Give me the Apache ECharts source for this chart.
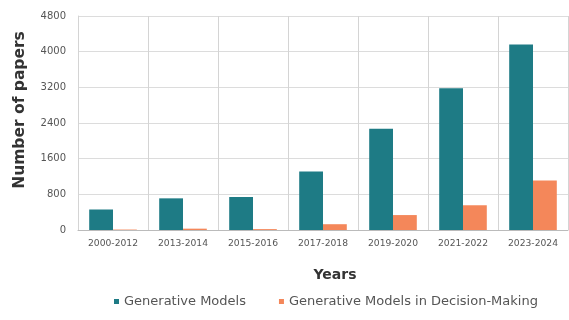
<!DOCTYPE html>
<html><head><meta charset="utf-8">
<script src="https://cdn.jsdelivr.net/npm/echarts@6/dist/echarts.min.js"></script>
<style>html,body{margin:0;padding:0;background:#fff}#c{width:569px;height:320px}</style>
</head><body><div id="c"></div>
<script>
const categories = ['2000-2012','2013-2014','2015-2016','2017-2018','2019-2020','2021-2022','2023-2024'];
const generativeModels = [460, 710, 740, 1310, 2270, 3180, 4160];
const decisionMaking = [10, 30, 20, 130, 335, 555, 1110];
const yTicks = [0, 800, 1600, 2400, 3200, 4000, 4800];

const F = 'DejaVu Sans';
const chart = echarts.init(document.getElementById('c'));
chart.setOption({
  animation: false,
  grid: {left: 78, right: 1, top: 16, bottom: 90},
  legend: {
    top: 290, left: 109, itemWidth: 5, itemHeight: 5, itemGap: 33,
    icon: 'rect',
    textStyle: {color: '#555', fontSize: 13, fontFamily: F},
    data: ['Generative Models', 'Generative Models in Decision-Making']
  },
  xAxis: {
    type: 'category', data: categories,
    name: 'Years', nameLocation: 'middle', nameGap: 38,
    nameTextStyle: {fontWeight: 'bold', fontSize: 14, color: '#333', fontFamily: F, padding: [0, 0, 0, 24]},
    axisLine: {lineStyle: {color: '#bbb'}},
    axisTick: {show: false},
    axisLabel: {color: '#555', fontSize: 9.2, margin: 9, fontFamily: F},
    splitLine: {show: true, lineStyle: {color: '#d4d4d4'}}
  },
  yAxis: {
    type: 'value', min: yTicks[0], max: yTicks[yTicks.length-1], interval: 800,
    name: 'Number of papers', nameLocation: 'middle', nameGap: 50,
    nameTextStyle: {fontWeight: 'bold', fontSize: 15.5, color: '#333', fontFamily: F, padding: [0, 0, 0, 26]},
    axisLine: {show: true, lineStyle: {color: '#d4d4d4'}},
    axisLabel: {color: '#555', fontSize: 10, margin: 12, fontFamily: F, formatter: v => String(v)},
    splitLine: {lineStyle: {color: '#dcdcdc'}}
  },
  series: [
    {name: 'Generative Models', type: 'bar', data: generativeModels,
     itemStyle: {color: '#1e7b85'}, barGap: '0%', barCategoryGap: '32%'},
    {name: 'Generative Models in Decision-Making', type: 'bar', data: decisionMaking,
     itemStyle: {color: '#f4875a'}}
  ]
});
</script></body></html>
